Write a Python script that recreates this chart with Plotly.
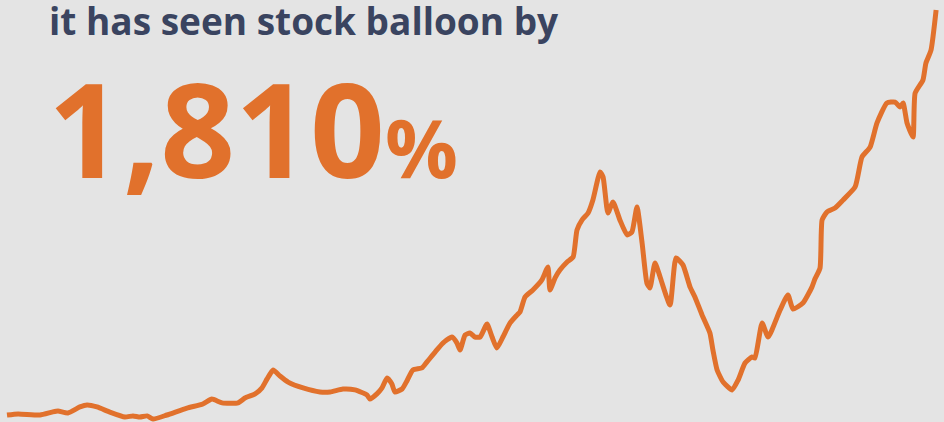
import plotly.graph_objects as go

# Decimal years and indexed stock value (start = 100, end = 1,910 -> +1,810%)
years = [
    1990.00, 1990.37, 1991.10, 1991.50, 1991.70, 1992.03, 1992.43, 1992.67, 1993.00, 1993.43,
    1993.93, 1994.20, 1994.43, 1994.67, 1994.87, 1995.33, 1996.00, 1996.53, 1996.83, 1997.17,
    1997.70, 1997.93, 1998.27, 1998.50, 1998.67, 1998.87, 1999.10, 1999.37, 1999.87, 2000.43,
    2000.77, 2001.20, 2001.60, 2002.00, 2002.10, 2002.33, 2002.50, 2002.67, 2002.83, 2002.93,
    2003.17, 2003.33, 2003.53, 2003.83, 2004.00, 2004.27, 2004.53, 2004.83, 2005.00, 2005.10,
    2005.27, 2005.43, 2005.60, 2005.77, 2006.00, 2006.17, 2006.33, 2006.53, 2006.77, 2007.00,
    2007.10, 2007.27, 2007.53, 2007.83, 2008.03, 2008.10, 2008.27, 2008.43, 2008.67, 2008.87,
    2009.00, 2009.17, 2009.37, 2009.53, 2009.77, 2009.87, 2010.03, 2010.20, 2010.43, 2010.67,
    2010.83, 2011.00, 2011.17, 2011.33, 2011.43, 2011.60, 2011.77, 2012.10, 2012.30, 2012.53,
    2012.77, 2012.93, 2013.17, 2013.43, 2013.53, 2013.67, 2013.87, 2014.17, 2014.37, 2014.60,
    2014.83, 2014.93, 2015.17, 2015.37, 2015.77, 2016.03, 2016.20, 2016.53, 2016.83, 2016.93,
    2017.10, 2017.17, 2017.33, 2017.60, 2017.87, 2018.27, 2018.50, 2018.77, 2019.00, 2019.33,
    2019.60, 2019.77, 2019.87, 2020.00, 2020.20, 2020.27, 2020.53, 2020.63, 2020.80, 2020.97,
]
values = [
    100, 105, 100, 113, 118, 109, 136, 145, 136, 113,
    91, 96, 91, 96, 82, 100, 131, 149, 171, 154,
    154, 176, 194, 221, 261, 301, 274, 247, 221, 203,
    203, 216, 212, 189, 171, 194, 221, 265, 238, 203,
    216, 252, 301, 310, 337, 381, 421, 448, 421, 390,
    457, 466, 448, 448, 506, 448, 399, 448, 511, 546,
    560, 627, 658, 703, 761, 658, 712, 747, 783, 805,
    926, 971, 1002, 1060, 1185, 1162, 1002, 1051, 971, 904,
    917, 1029, 868, 689, 667, 779, 716, 591, 801, 770,
    671, 627, 546, 466, 390, 301, 247, 212, 256, 332,
    359, 354, 511, 448, 569, 636, 573, 600, 671, 707,
    756, 971, 1006, 1024, 1060, 1118, 1252, 1296, 1404, 1493,
    1497, 1475, 1493, 1404, 1341, 1537, 1595, 1671, 1729, 1908,
]

headline = "it has seen stock balloon by"
big_number = "1,810"
big_suffix = "%"

ORANGE = "#E1712C"
SLATE = "#3A4460"
BG = "#E4E4E4"

fig = go.Figure()
fig.add_trace(go.Scatter(
    x=years, y=values, mode="lines",
    line=dict(color=ORANGE, width=5, shape="spline", smoothing=0.5),
    hoverinfo="skip", showlegend=False,
))

fig.update_layout(
    width=944, height=422,
    margin=dict(l=0, r=0, t=0, b=0),
    paper_bgcolor=BG, plot_bgcolor=BG,
    xaxis=dict(visible=False, range=[1989.767, 2021.233], fixedrange=True),
    yaxis=dict(visible=False, range=[68.75, 1952.6], fixedrange=True),
    font=dict(family="Open Sans"),
    annotations=[
        dict(
            text=f"<b>{headline}</b>", xref="paper", yref="paper",
            x=47 / 944, y=1 - 20 / 422, xanchor="left", yanchor="middle",
            showarrow=False, font=dict(family="Open Sans", size=37, color=SLATE),
        ),
        dict(
            text=f"<b>{big_number}<span style='font-size:81px'>{big_suffix}</span></b>",
            xref="paper", yref="paper",
            x=46 / 944, y=1 - 127 / 422, xanchor="left", yanchor="middle",
            showarrow=False, font=dict(family="Open Sans", size=131, color=ORANGE),
        ),
    ],
)

fig.write_html("out.html")
